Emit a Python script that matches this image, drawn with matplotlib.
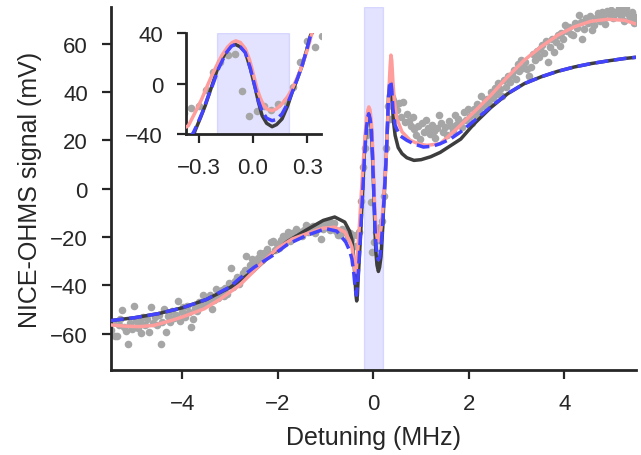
"""NICE-OHMS signal vs detuning: data, three model fits, zoomed inset."""
import numpy as np
import matplotlib
matplotlib.use('Agg')
import matplotlib.pyplot as plt

plt.rcParams['font.family'] = ['Liberation Sans', 'DejaVu Sans']
plt.rcParams['text.color'] = '#262626'
plt.rcParams['axes.labelcolor'] = '#262626'
plt.rcParams['xtick.color'] = '#262626'
plt.rcParams['ytick.color'] = '#262626'

# measured signal (mV), sampled on a uniform detuning scan
scan_detuning = np.linspace(-5.5, 5.5, 276)
signal_mv = [
    -58.5, -55.0, -60.7, -61.0, -56.5, -54.0, -50.3, -57.0, -59.0, -64.1,
    -55.5, -58.0, -48.3, -54.5, -57.5, -55.0, -59.5, -53.0, -56.5, -54.0,
    -59.3, -49.0, -55.5, -53.0, -56.5, -52.0, -64.1, -55.0, -49.6, -59.3,
    -52.5, -55.0, -50.5, -53.5, -52.0, -46.6, -54.5, -51.0, -49.0, -53.0,
    -48.5, -51.0, -57.0, -53.8, -49.5, -50.5, -47.0, -48.0, -43.9, -47.5,
    -45.5, -47.0, -44.0, -49.6, -46.0, -41.4, -45.0, -43.0, -42.0, -44.5,
    -41.0, -43.5, -39.0, -32.7, -40.5, -38.0, -36.5, -39.5, -37.0, -35.0,
    -33.5, -27.8, -34.0, -31.5, -29.0, -32.0, -30.5, -28.5, -26.5, -29.5,
    -26.5, -28.0, -25.0, -27.0, -22.0, -21.8, -25.5, -23.0, -24.5, -21.0,
    -19.5, -22.5, -20.0, -17.9, -21.5, -18.5, -20.0, -16.5, -19.5, -18.0,
    -19.5, -17.0, -14.9, -18.0, -16.0, -17.5, -15.5, -18.5, -16.5, -15.0,
    -20.7, -16.5, -14.5, -16.0, -13.5, -17.0, -15.0, -14.0, -17.5, -19.3,
    -19.3, -16.5, -18.0, -17.5, -20.0, -18.5, -21.0, -19.3, -23.5, -19.3,
    -18.0, -5.0, 9.1, 17.0, 22.3, 23.6, -5.6, -26.0, -22.0, -18.0,
    -21.0, -16.0, -13.5, -2.9, 17.0, 34.0, 28.9, 38.0, 36.5, 34.0,
    32.5, 35.5, 29.5, 35.9, 27.6, 31.0, 28.0, 26.0, 29.5, 24.5,
    22.0, 26.0, 20.5, 27.0, 23.5, 28.3, 25.0, 22.5, 26.5, 24.0,
    21.0, 25.0, 30.3, 27.0, 23.5, 25.5, 22.0, 28.0, 26.0, 24.0,
    30.3, 26.5, 29.0, 27.5, 25.5, 31.5, 28.5, 33.1, 30.0, 27.0,
    33.1, 30.5, 35.0, 32.0, 38.5, 34.0, 36.5, 37.2, 35.0, 40.0,
    37.5, 41.5, 39.0, 43.5, 41.0, 38.5, 44.8, 42.0, 46.5, 44.0,
    46.9, 49.0, 45.5, 51.5, 48.5, 53.0, 50.0, 52.5, 49.5, 46.6,
    50.3, 55.5, 53.0, 57.0, 54.5, 57.9, 59.5, 56.0, 61.0, 52.4,
    58.5, 62.0, 56.6, 60.5, 63.5, 59.0, 64.5, 62.0, 67.6, 65.0,
    67.0, 64.0, 63.4, 68.5, 66.5, 71.7, 69.0, 62.0, 66.0, 70.5,
    68.5, 71.5, 65.5, 67.5, 70.5, 72.4, 69.5, 73.1, 71.0, 68.0,
    73.5, 72.0, 74.0, 70.5, 73.0, 72.5, 74.5, 71.5, 73.5, 69.5,
    74.5, 72.0, 70.5, 73.0, 68.5, 71.0,
]

# model 1 (dark solid)
black_x = [-5.5, -5.0, -4.5, -4.0, -3.5, -3.0, -2.5, -2.1, -1.8, -1.4,
           -1.05, -0.81, -0.6, -0.5, -0.45, -0.41, -0.38, -0.365, -0.35, -0.335,
           -0.32, -0.29, -0.264, -0.23, -0.19, -0.15, -0.12, -0.098, -0.07, -0.043,
           -0.015, 0.013, 0.03, 0.05, 0.075, 0.105, 0.13, 0.16, 0.19, 0.216,
           0.245, 0.271, 0.295, 0.317, 0.34, 0.36, 0.375, 0.395, 0.42, 0.456,
           0.52, 0.6, 0.7, 0.85, 1.0, 1.2, 1.4, 1.83, 2.11, 2.46,
           2.81, 3.16, 3.51, 3.86, 4.21, 4.56, 4.91, 5.26, 5.5]
black_y = [-54.5, -53.3, -51.6, -49.2, -45.8, -40.8, -33.8, -26.5, -21.8, -17.0,
           -13.1, -11.7, -13.8, -17.5, -21.0, -29.0, -39.0, -44.0, -46.4, -44.0,
           -37.4, -27.0, -17.5, -3.0, 14.3, 25.0, 30.0, 31.0, 29.0, 25.0,
           12.0, -4.2, -15.0, -25.4, -31.5, -34.2, -32.5, -28.0, -18.0, -6.8,
           4.0, 14.3, 26.0, 38.2, 43.0, 45.0, 44.0, 36.0, 28.0, 22.0,
           17.0, 14.5, 12.8, 11.7, 12.0, 13.2, 15.0, 20.5, 26.8, 33.5,
           39.2, 43.4, 46.2, 48.5, 50.3, 51.7, 52.8, 53.8, 54.3]

# model 2 (blue dashed)
blue_x = [-5.5, -5.0, -4.5, -4.0, -3.5, -3.0, -2.81, -2.5, -2.11, -1.8,
          -1.4, -1.0, -0.77, -0.58, -0.5, -0.45, -0.41, -0.38, -0.355, -0.33,
          -0.31, -0.28, -0.25, -0.22, -0.19, -0.15, -0.12, -0.098, -0.07, -0.043,
          -0.015, 0.013, 0.03, 0.05, 0.075, 0.105, 0.13, 0.16, 0.19, 0.216,
          0.245, 0.271, 0.295, 0.317, 0.34, 0.365, 0.385, 0.41, 0.456, 0.55,
          0.7, 0.85, 1.05, 1.25, 1.4, 1.61, 1.83, 2.11, 2.46, 2.81,
          3.16, 3.51, 3.86, 4.21, 4.56, 4.91, 5.26, 5.5]
blue_y = [-54.5, -53.3, -51.6, -49.2, -45.8, -40.5, -37.2, -32.5, -27.6, -23.0,
          -19.3, -16.5, -17.5, -22.0, -25.5, -29.0, -35.0, -41.5, -44.0, -39.0,
          -33.0, -23.0, -11.0, 0.0, 12.0, 24.0, 29.5, 31.0, 29.0, 24.5,
          12.0, -4.0, -14.0, -22.0, -27.5, -29.4, -28.5, -24.0, -16.0, -6.8,
          4.0, 14.3, 26.0, 38.0, 43.0, 44.5, 41.0, 33.0, 26.2, 22.0,
          20.0, 18.5, 17.2, 17.6, 18.6, 20.5, 23.5, 28.0, 33.8, 39.3,
          43.4, 46.2, 48.5, 50.3, 51.7, 52.8, 53.8, 54.3]

# model 3 (pink solid)
pink_x = [-5.5, -5.2, -4.9, -4.6, -4.24, -4.0, -3.54, -3.2, -2.81, -2.5,
          -2.24, -2.0, -1.7, -1.4, -1.05, -0.81, -0.6, -0.5, -0.45, -0.41,
          -0.385, -0.37, -0.357, -0.32, -0.283, -0.25, -0.227, -0.2, -0.172, -0.14,
          -0.115, -0.095, -0.07, -0.043, -0.02, -0.006, 0.022, 0.04, 0.059, 0.08,
          0.105, 0.13, 0.16, 0.19, 0.216, 0.245, 0.271, 0.3, 0.327, 0.35,
          0.368, 0.385, 0.41, 0.44, 0.49, 0.6, 0.77, 0.95, 1.12, 1.4,
          1.75, 2.11, 2.46, 2.81, 3.16, 3.51, 3.86, 4.21, 4.56, 4.91,
          5.26, 5.5]
pink_y = [-56.3, -56.8, -57.0, -56.5, -54.5, -53.0, -49.6, -45.5, -40.0, -34.0,
          -28.8, -24.5, -20.8, -18.6, -16.3, -15.9, -17.9, -21.5, -24.1, -29.5,
          -34.3, -34.5, -33.4, -23.0, -12.2, -1.0, 6.4, 14.5, 22.3, 29.0,
          32.5, 33.8, 32.5, 27.6, 19.0, 11.7, -4.2, -11.5, -17.5, -20.5,
          -21.5, -20.0, -16.1, -10.5, -4.2, 5.0, 14.3, 27.0, 40.9, 50.5,
          55.2, 53.0, 44.0, 36.0, 29.0, 23.5, 20.0, 18.5, 17.9, 18.6,
          24.8, 31.7, 38.6, 46.2, 53.1, 58.6, 63.4, 66.9, 69.2, 70.0,
          69.6, 68.1]

window = (-0.2, 0.2)


def draw(ax):
    ax.axvspan(window[0], window[1], color='blue', alpha=0.11, lw=1, zorder=0)
    ax.scatter(scan_detuning, signal_mv, s=30, color='#a6a6a6', lw=0, zorder=1)
    ax.plot(black_x, black_y, color='#3d3d3d', lw=2.5, zorder=2)
    ax.plot(pink_x, pink_y, color='#ff9d9d', lw=2.5, zorder=3)
    ax.plot(blue_x, blue_y, color='#4444ff', lw=2.5, ls='--', zorder=4)
    for side in ('top', 'right'):
        ax.spines[side].set_visible(False)
    for side in ('left', 'bottom'):
        ax.spines[side].set_linewidth(2.0)
        ax.spines[side].set_color('#262626')
    ax.tick_params(direction='out', length=6.5, width=1.6, labelsize=16, pad=10)


fig = plt.figure(figsize=(6.41, 4.56), dpi=100)
ax = fig.add_axes([0.173, 0.186, 0.819, 0.796])
draw(ax)
ax.set_xlim(-5.5, 5.5)
ax.set_ylim(-75, 75)
ax.set_xticks([-4, -2, 0, 2, 4])
ax.set_yticks([-60, -40, -20, 0, 20, 40, 60])
ax.set_xlabel('Detuning (MHz)', fontsize=18, labelpad=8)
ax.set_ylabel('NICE-OHMS signal (mV)', fontsize=18, labelpad=6)

axin = fig.add_axes([0.2902, 0.7039, 0.2106, 0.2215])
draw(axin)
axin.set_xlim(-0.37, 0.375)
axin.set_ylim(-40, 40)
axin.set_xticks([-0.3, 0.0, 0.3])
axin.set_yticks([-40, 0, 40])

fig.savefig('out.png', dpi=100)
